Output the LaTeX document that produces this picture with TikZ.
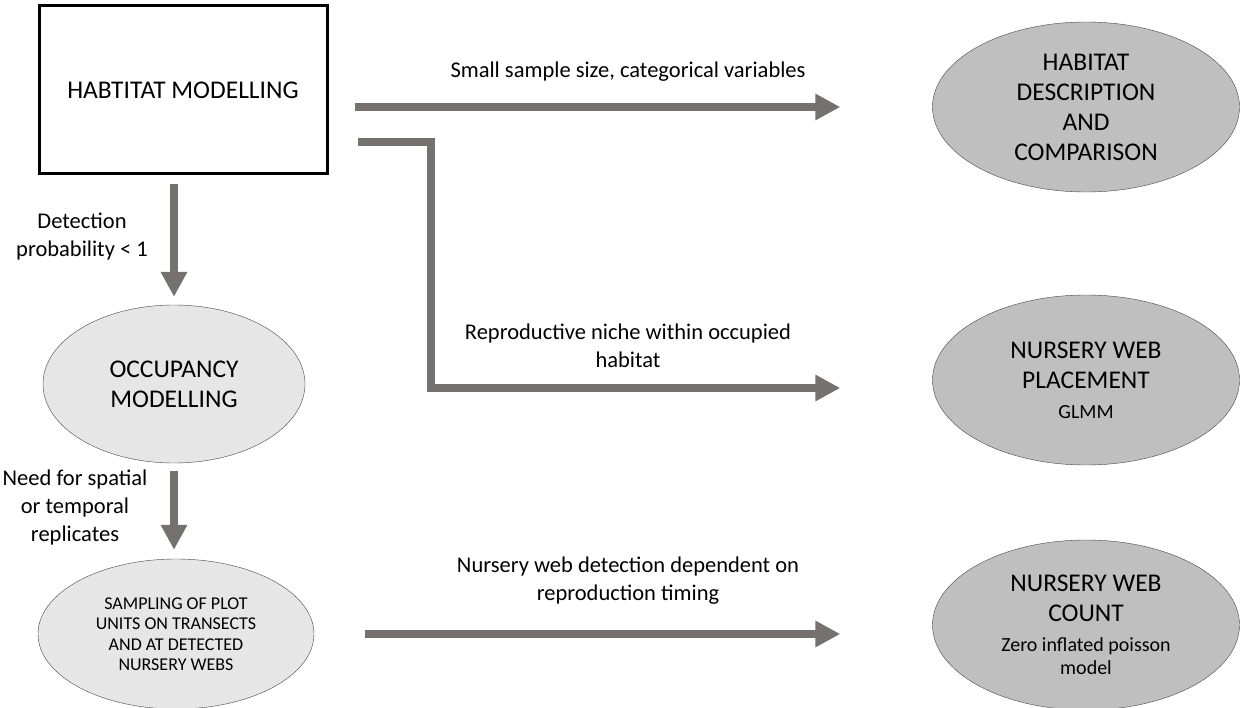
\documentclass[tikz,border=0pt]{standalone}
\usepackage{fontspec}
\setmainfont{Carlito}
\usetikzlibrary{arrows.meta,shapes.geometric}
\definecolor{arrowgray}{RGB}{118,113,113}
\definecolor{darkfill}{RGB}{191,191,191}
\definecolor{lightfill}{RGB}{231,230,230}
\definecolor{edgegray}{RGB}{70,70,70}
\begin{document}
\begin{tikzpicture}[x=1pt,y=-1pt,line join=miter,
	fat/.style={arrowgray,line width=8pt,-{Triangle[width=25pt,length=25pt]}},
	ovaldark/.style={ellipse,draw=edgegray,fill=darkfill,thin,minimum width=307pt,minimum height=170pt,inner sep=0pt,align=center,font=\fontsize{25.5}{30}\selectfont},
	ovallight/.style={ellipse,draw=edgegray,fill=lightfill,thin,inner sep=0pt,align=center,font=\fontsize{25.5}{30}\selectfont},
	lbl/.style={align=center,font=\fontsize{22.5}{28}\selectfont}]
			\useasboundingbox (0,0) rectangle (1241,708);
			\def\gap{92pt} \def\subfont{\fontsize{20}{24}\selectfont}
			\node[draw,line width=3pt,minimum width=288pt,minimum height=168pt,font=\fontsize{25.5}{30}\selectfont] (hab) at (183,90) {HABTITAT MODELLING};
			\node[ovaldark] (desc) at (1086,107) {HABITAT\\DESCRIPTION\\AND\\COMPARISON};
			\node[ovaldark] (place) at (1086,380) {NURSERY WEB\\PLACEMENT\\{\subfont GLMM}};
			\node[ovaldark] (count) at (1086,625) {NURSERY WEB\\COUNT\\{\subfont Zero inflated poisson}\\[-7pt]{\subfont model}};
			\node[ovallight,minimum width=262pt,minimum height=158pt] (occ) at (174,384) {OCCUPANCY\\MODELLING};
			\node[ovallight,minimum width=276pt,minimum height=150pt,font=\fontsize{18}{20.5}\selectfont] (samp) at (176,634) {SAMPLING OF PLOT\\UNITS ON TRANSECTS\\AND AT DETECTED\\NURSERY WEBS};
			\coordinate (elb) at (431,142);
			\draw[fat,shorten <=26pt,shorten >=\gap] (hab.east |- desc.west) -- (desc.west);
			\draw[fat,shorten <=29pt,shorten >=\gap] (hab.east |- elb) -- (elb) |- ([yshift=-8pt]place.west);
			\draw[fat,shorten <=51pt,shorten >=\gap] (samp.east) -- (samp.east -| count.west);
			\draw[fat,shorten <=9pt,shorten >=8pt] (hab.south -| occ.north) -- (occ.north);
			\draw[fat,shorten <=8pt,shorten >=9pt] (occ.south) -- (occ.south |- samp.north);
			\node[lbl] (small) at (628,72) {Small sample size, categorical variables};
			\node[lbl] (niche) at (628,346) {Reproductive niche within occupied\\habitat};
			\node[lbl] (timing) at (628,581) {Nursery web detection dependent on\\reproduction timing};
			\node[lbl] (prob) at (82,237) {Detection\\probability < 1};
			\node[lbl] (repl) at (75,507) {Need for spatial\\or temporal\\replicates};
		\end{tikzpicture}
\end{document}
